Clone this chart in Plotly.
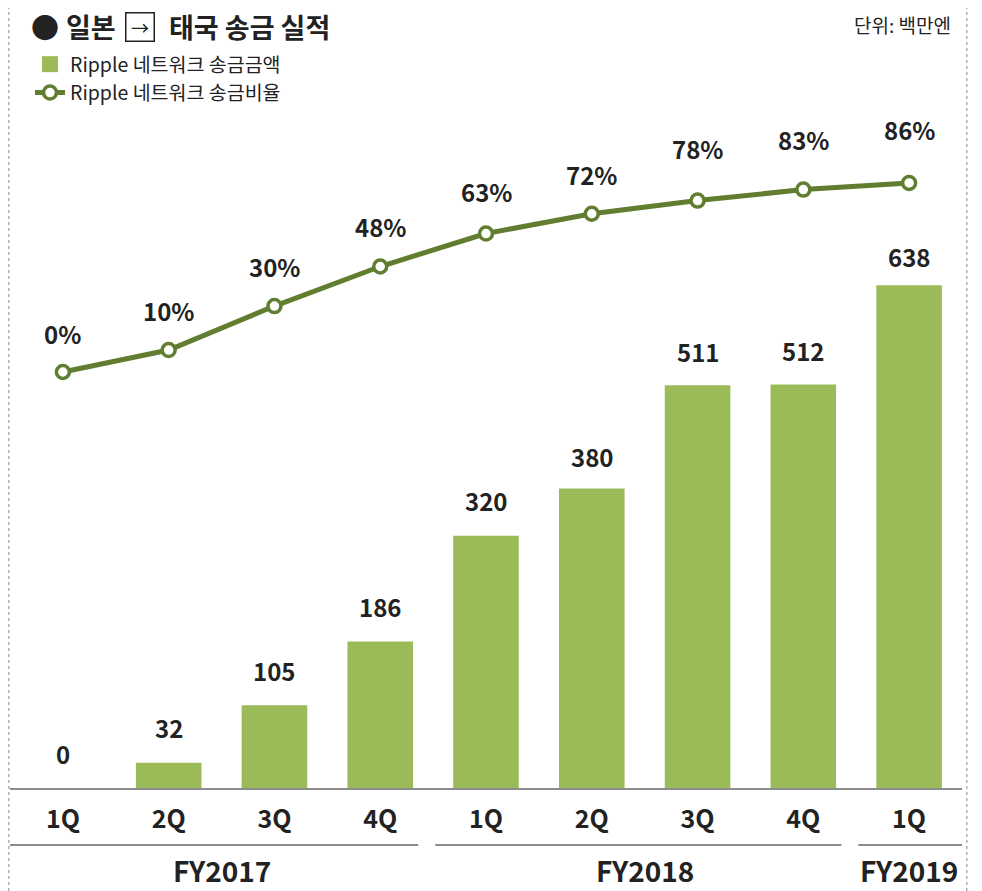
import plotly.graph_objects as go

categories = ["1Q", "2Q", "3Q", "4Q", "1Q", "2Q", "3Q", "4Q", "1Q"]
amounts = [0, 32, 105, 186, 320, 380, 511, 512, 638]
ratios = [0, 10, 30, 48, 63, 72, 78, 83, 86]
groups = ["FY2017", "FY2018", "FY2019"]
group_sizes = [4, 4, 1]

title_bullet = "●"
title_left = "일본"
title_arrow = "→"
title_right = "태국 송금 실적"
unit_label = "단위: 백만엔"
bar_name = "Ripple 네트워크 송금금액"
line_name = "Ripple 네트워크 송금비율"

FONT = "Noto Sans CJK KR, Noto Sans, sans-serif"
BAR_COLOR = "#9BBB59"
LINE_COLOR = "#617D30"
TEXT_COLOR = "#222222"

# page body has an 8px margin; work in window pixels and convert
OFF = 8
W, H = 982 - OFF, 891 - OFF
PLOT_L, PLOT_R, PLOT_T, PLOT_B = 10, 962, 100, 788   # window pixels
ML, MT = PLOT_L - OFF, PLOT_T - OFF
MR = W - (PLOT_R - OFF)
MB = H - (PLOT_B - OFF)
plot_w = PLOT_R - PLOT_L
plot_h = PLOT_B - PLOT_T
px_per_unit = 0.788
px_per_pct = 2.198
bar_max = plot_h / px_per_unit
pct_min = -(PLOT_B - 372) / px_per_pct
pct_max = pct_min + plot_h / px_per_pct


def wx(p):
    return (p - PLOT_L) / plot_w


def wy(p):
    return (PLOT_B - p) / plot_h


x_idx = list(range(len(categories)))

fig = go.Figure()
fig.add_trace(go.Bar(
    x=x_idx, y=amounts, name=bar_name, marker=dict(color=BAR_COLOR, line=dict(width=0)),
    width=0.62, yaxis="y", showlegend=False,
))
fig.add_trace(go.Scatter(
    x=[None], y=[None], name=bar_name, mode="markers",
    marker=dict(symbol="square", size=19, color=BAR_COLOR), showlegend=True,
))
fig.add_trace(go.Scatter(
    x=x_idx, y=ratios, name=line_name, mode="lines+markers", yaxis="y2",
    line=dict(color=LINE_COLOR, width=5),
    marker=dict(symbol="circle", size=13, color="white", line=dict(color=LINE_COLOR, width=3.5)),
))

LABEL_FONT = dict(family=FONT, size=24, color=TEXT_COLOR, weight="bold")
annotations = []
bar_label_shift = [35, 35, 35, 35, 35, 32, 34, 34, 29]
for i, v, s in zip(x_idx, amounts, bar_label_shift):
    annotations.append(dict(x=i, y=v, xref="x", yref="y", text=str(v), showarrow=False,
                            yanchor="middle", yshift=s, font=LABEL_FONT))
ratio_label_shift = [39, 40, 40, 40, 42, 39, 52, 50, 53]
for i, v, s in zip(x_idx, ratios, ratio_label_shift):
    annotations.append(dict(x=i, y=v, xref="x", yref="y2", text=f"{v}%", showarrow=False,
                            yanchor="middle", yshift=s, font=LABEL_FONT))

shapes = []
start = 0
for gi, (g, n) in enumerate(zip(groups, group_sizes)):
    end = start + n - 1
    x0 = start - 0.5 + (0.0 if gi == 0 else 0.02)
    x1 = end + 0.5 + (0.03 if gi == len(groups) - 1 else -0.14)
    shapes.append(dict(type="line", xref="x", yref="paper", x0=x0, x1=x1, y0=wy(845), y1=wy(845),
                       line=dict(color="#8c8c8c", width=2)))
    annotations.append(dict(x=(start + end) / 2, y=wy(870), xref="x", yref="paper", text=g,
                            showarrow=False, yanchor="middle", xanchor="center",
                            font=dict(family=FONT, size=28, color=TEXT_COLOR, weight="bold")))
    start = end + 1

for xp in (OFF, 966):
    shapes.append(dict(type="line", xref="paper", yref="paper", x0=wx(xp + 0.8), x1=wx(xp + 0.8),
                       y0=wy(891), y1=wy(OFF), line=dict(color="#b0b0b0", width=1.5, dash="dot")))

TITLE_FONT = dict(family=FONT, size=27, color=TEXT_COLOR, weight="bold")
annotations.append(dict(x=wx(45), y=wy(27), xref="paper", yref="paper", text=title_bullet,
                        showarrow=False, xanchor="center", yanchor="middle",
                        font=dict(family=FONT, size=28, color=TEXT_COLOR)))
annotations.append(dict(x=wx(64), y=wy(27), xref="paper", yref="paper", text=title_left,
                        showarrow=False, xanchor="left", yanchor="middle", font=TITLE_FONT))
annotations.append(dict(x=wx(140), y=wy(27), xref="paper", yref="paper", text=title_arrow,
                        showarrow=False, xanchor="center", yanchor="middle",
                        width=27, height=27, align="center", valign="middle",
                        bordercolor=TEXT_COLOR, borderwidth=1.5, borderpad=0,
                        font=dict(family=FONT, size=18, color=TEXT_COLOR)))
annotations.append(dict(x=wx(167), y=wy(27), xref="paper", yref="paper", text=title_right,
                        showarrow=False, xanchor="left", yanchor="middle", font=TITLE_FONT))
annotations.append(dict(x=wx(953), y=wy(8.5), xref="paper", yref="paper", text=unit_label,
                        showarrow=False, xanchor="right", yanchor="top",
                        font=dict(family=FONT, size=19, color=TEXT_COLOR)))

fig.update_layout(
    width=W, height=H, margin=dict(l=ML, r=MR, t=MT, b=MB),
    paper_bgcolor="white", plot_bgcolor="white",
    font=dict(family=FONT, color=TEXT_COLOR),
    showlegend=True,
    legend=dict(x=wx(30), y=wy(45), xanchor="left", yanchor="top",
                orientation="v", font=dict(family=FONT, size=19.5, color=TEXT_COLOR),
                bgcolor="rgba(0,0,0,0)", tracegroupgap=0, itemwidth=30),
    xaxis=dict(tickmode="array", tickvals=x_idx, ticktext=categories, range=[-0.5, len(categories) - 0.5],
               showgrid=False, zeroline=False, showline=True, linecolor="#8c8c8c", linewidth=2,
               ticks="", ticklabelstandoff=8,
               tickfont=dict(family=FONT, size=25, color=TEXT_COLOR, weight="bold")),
    yaxis=dict(range=[0, bar_max], visible=False, showgrid=False, zeroline=False),
    yaxis2=dict(range=[pct_min, pct_max], overlaying="y", visible=False, showgrid=False, zeroline=False),
    annotations=annotations, shapes=shapes,
)

fig.write_html("out.html")
